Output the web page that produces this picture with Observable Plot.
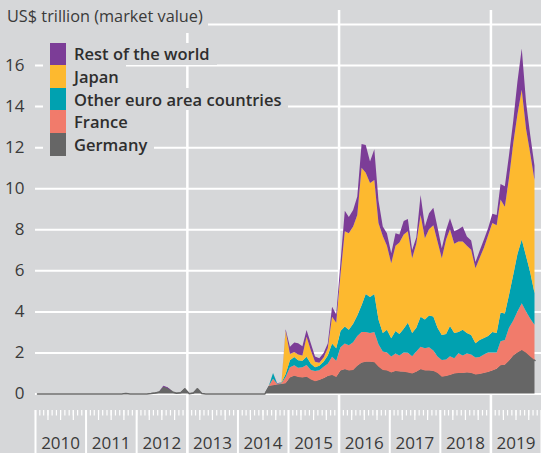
<!DOCTYPE html>
<html><head><meta charset="utf-8">
<script src="https://cdn.jsdelivr.net/npm/d3@7"></script>
<script src="https://cdn.jsdelivr.net/npm/@observablehq/plot@0.6"></script>
<style>
body{margin:0;background:#d6d7d9;}
#chart{position:relative;width:541px;height:453px;font-family:"Open Sans",sans-serif;color:#3a3a3a;overflow:hidden;}
#chart svg{display:block;}
#title{position:absolute;left:0;top:0;width:208px;height:33px;background:#d6d7d9;box-sizing:border-box;padding:6px 0 0 7px;font-size:16.3px;line-height:20px;white-space:nowrap;}
#legend{position:absolute;left:43px;top:42.7px;display:flex;flex-direction:column;align-items:flex-start;}
.row{display:flex;align-items:center;height:22.6px;background:#d6d7d9;padding:0 7px;}
.sw{width:16px;align-self:stretch;}
.lab{margin-left:8px;font-size:16.5px;font-weight:600;white-space:nowrap;color:#2e2e2e;}
</style></head>
<body><div id="chart"></div>
<script>
const titleText = "US$ trillion (market value)";
const seriesNames = ["Germany", "France", "Other euro area countries", "Japan", "Rest of the world"];
const seriesColors = ["#666666", "#f17b6b", "#00a1b0", "#fdb92f", "#7c3d97"];
const bg = "#d6d7d9";

// Monthly values, Jan 2010 - Nov 2019 (US$ trillion)
const germany = [
0,0,0,0,0,0,0,0,0,0,
0,0,0,0,0,0,0,0,0,0,
0,0.03,0,0,0,0,0,0.02,0.05,0.10,
0.33,0.26,0.10,0.04,0.06,0.25,0.01,0.05,0.25,0.02,
0,0,0,0,0,0,0,0,0,0,
0,0,0,0,0,0.37,0.40,0.44,0.46,0.50,
0.78,0.87,0.80,0.78,0.82,0.68,0.60,0.66,0.74,0.85,
0.90,0.80,1.12,1.18,1.12,1.15,1.35,1.50,1.55,1.55,
1.52,1.30,1.15,1.12,1.02,1.10,1.07,1.06,1.02,0.98,
1.06,1.18,1.12,1.12,1.10,1.00,0.82,0.85,0.90,0.98,
1.00,1.00,1.02,1.00,0.92,0.95,1.00,1.05,1.12,1.20,
1.38,1.40,1.60,1.85,2.00,2.12,1.98,1.80,1.63];
const france = [
0,0,0,0,0,0,0,0,0,0,
0,0,0,0,0,0,0,0,0,0,
0,0,0,0,0,0,0,0,0,0,
0,0,0,0,0,0,0,0,0,0,
0,0,0,0,0,0,0,0,0,0,
0,0,0,0,0,0,0.32,0.02,0.04,0.30,
0.50,0.51,0.45,0.50,0.57,0.47,0.50,0.47,0.56,0.60,
0.89,0.80,1.13,1.26,1.23,1.35,1.45,1.50,1.45,1.40,
1.48,1.10,0.90,0.88,0.78,0.85,0.78,0.94,0.96,0.84,
0.99,1.10,1.08,1.13,1.00,0.80,0.81,0.81,0.92,0.74,
0.96,0.85,0.93,0.90,0.83,0.83,0.90,0.95,0.88,0.80,
1.17,1.20,1.60,1.70,2.00,2.28,2.02,1.85,1.72];
const otherEuro = [
0,0,0,0,0,0,0,0,0,0,
0,0,0,0,0,0,0,0,0,0,
0,0,0,0,0,0,0,0,0,0,
0,0,0,0,0,0,0,0,0,0,
0,0,0,0,0,0,0,0,0,0,
0,0,0,0,0,0,0.28,0.02,0.02,0.15,
0.34,0.40,0.37,0.32,0.40,0.30,0.18,0.22,0.25,0.40,
0.65,0.60,0.80,0.82,0.75,0.90,1.00,1.30,1.85,1.75,
1.85,1.20,0.90,1.10,0.89,1.10,1.05,1.15,1.47,1.13,
1.15,1.46,1.40,1.55,1.65,1.40,1.22,1.24,1.47,1.23,
1.04,1.25,1.00,0.95,0.70,0.82,0.80,0.80,1.00,0.95,
1.40,1.30,1.60,2.25,2.80,3.10,2.70,2.25,1.55];
const japan = [
0,0,0,0,0,0,0,0,0,0,
0,0,0,0,0,0,0,0,0,0,
0,0,0,0,0,0,0,0,0,0,
0,0,0,0,0,0,0,0,0,0,
0,0,0,0,0,0,0,0,0,0,
0,0,0,0,0,0,0,0,0.01,2.10,
0.30,0.24,0.28,0.25,0.98,0.65,0.27,0.15,0.20,0.35,
1.30,1.25,2.75,4.64,4.70,4.73,4.90,6.70,5.90,5.55,
5.55,4.70,4.72,4.10,3.65,4.15,4.45,4.60,4.45,3.64,
4.10,4.96,3.96,4.20,4.45,4.20,3.74,4.60,4.71,4.35,
4.40,4.30,4.25,4.15,3.65,4.00,4.40,4.90,5.30,5.25,
5.50,5.20,5.70,6.40,6.80,7.30,6.20,5.80,5.50];
const restOfWorld = [
0,0,0,0,0,0,0,0,0,0,
0,0,0,0,0,0,0,0,0,0,
0,0,0,0,0,0,0,0,0,0,
0.05,0.04,0,0,0,0,0,0,0,0,
0,0,0,0,0,0,0,0,0,0,
0,0,0,0,0,0,0,0.02,0.02,0.08,
0.36,0.46,0.55,0.45,0.32,0.34,0.25,0.22,0.22,0.24,
0.49,0.40,0.60,1.00,0.80,0.81,0.90,1.15,1.35,1.05,
1.50,1.10,0.46,0.60,0.49,0.60,0.40,0.65,0.60,0.40,
0.30,0.97,0.57,0.78,0.85,0.70,0.48,0.47,0.54,0.60,
0.60,0.73,0.45,0.45,0.30,0.35,0.40,0.35,0.45,0.50,
0.75,1.00,1.10,1.10,1.60,2.00,1.30,0.90,0.70];

const yTickValues = [0, 2, 4, 6, 8, 10, 12, 14, 16];
const yGridValues = [0, 2, 4, 6, 8, 10, 12, 14, 16, 18];
const yearLabels = ["2010","2011","2012","2013","2014","2015","2016","2017","2018","2019"];
const gridYears = [2013, 2016, 2019];

const seriesValues = [germany, france, otherEuro, japan, restOfWorld];
const months = germany.map((_, i) => new Date(Date.UTC(2010, i, 15)));
const rows = seriesNames.flatMap((s, k) => seriesValues[k].map((v, i) => ({date: months[i], series: s, value: v})));

const axisStart = new Date(Date.UTC(2010, 0, 1));
const axisEnd = new Date(Date.UTC(2020, 0, 1));
const monthTicks = d3.utcMonth.range(axisStart, new Date(Date.UTC(2020, 0, 2)));
const quarterTicks = d3.utcMonth.every(3).range(axisStart, new Date(Date.UTC(2020, 0, 2)));
const yearTicks = d3.utcYear.range(axisStart, new Date(Date.UTC(2020, 0, 2)));
const labelTicks = yearLabels.map(y => new Date(Date.UTC(+y, 6, 1)));
const gridTicks = gridYears.map(y => new Date(Date.UTC(y, 0, 1)));

const plot = Plot.plot({
  width: 541,
  height: 453,
  marginLeft: 35,
  marginRight: 0,
  marginTop: 10,
  marginBottom: 59.5,
  style: {background: bg, fontFamily: "Open Sans, sans-serif", color: "#3a3a3a", overflow: "visible"},
  x: {type: "utc", domain: [axisStart, axisEnd], label: null},
  y: {domain: [0, 18.68], label: null},
  color: {domain: seriesNames, range: seriesColors},
  marks: [
    Plot.gridY({ticks: yGridValues, stroke: "white", strokeOpacity: 1, strokeWidth: 2}),
    Plot.gridX({ticks: gridTicks, stroke: "white", strokeOpacity: 1, strokeWidth: 2.5}),
    Plot.axisX({ticks: gridTicks, tickSize: 60, stroke: "white", strokeWidth: 2.5, fill: "none", label: null}),
    Plot.axisX({ticks: monthTicks, tickSize: 5.5, dy: 16.5, stroke: "white", strokeWidth: 1.2, fill: "none", label: null}),
    Plot.axisX({ticks: quarterTicks, tickSize: 10, dy: 16.5, stroke: "white", strokeWidth: 1.2, fill: "none", label: null}),
    Plot.axisX({ticks: yearTicks, tickSize: 43, dy: 16.5, stroke: "white", strokeWidth: 2, fill: "none", label: null}),
    Plot.axisX({ticks: labelTicks, tickSize: 0, tickPadding: 43, tickFormat: "%Y", fontSize: 17, fill: "#3a3a3a", label: null}),
    Plot.axisY({ticks: yTickValues, tickSize: 0, tickPadding: 11, fontSize: 17, fill: "#3a3a3a", label: null}),
    Plot.lineY(rows.filter(d => d.series === "Germany"), {x: "date", y: "value", stroke: "#666666", strokeWidth: 1.5}),
    Plot.areaY(rows, {x: "date", y: "value", fill: "series", order: seriesNames})
  ]
});

const chart = document.getElementById("chart");
chart.appendChild(plot);

const title = document.createElement("div");
title.id = "title";
title.textContent = titleText;
chart.appendChild(title);

const legend = document.createElement("div");
legend.id = "legend";
for (let k = seriesNames.length - 1; k >= 0; k--) {
  const row = document.createElement("div");
  row.className = "row";
  const sw = document.createElement("div");
  sw.className = "sw";
  sw.style.background = seriesColors[k];
  const lab = document.createElement("span");
  lab.className = "lab";
  lab.textContent = seriesNames[k];
  row.appendChild(sw);
  row.appendChild(lab);
  legend.appendChild(row);
}
chart.appendChild(legend);
</script></body></html>
